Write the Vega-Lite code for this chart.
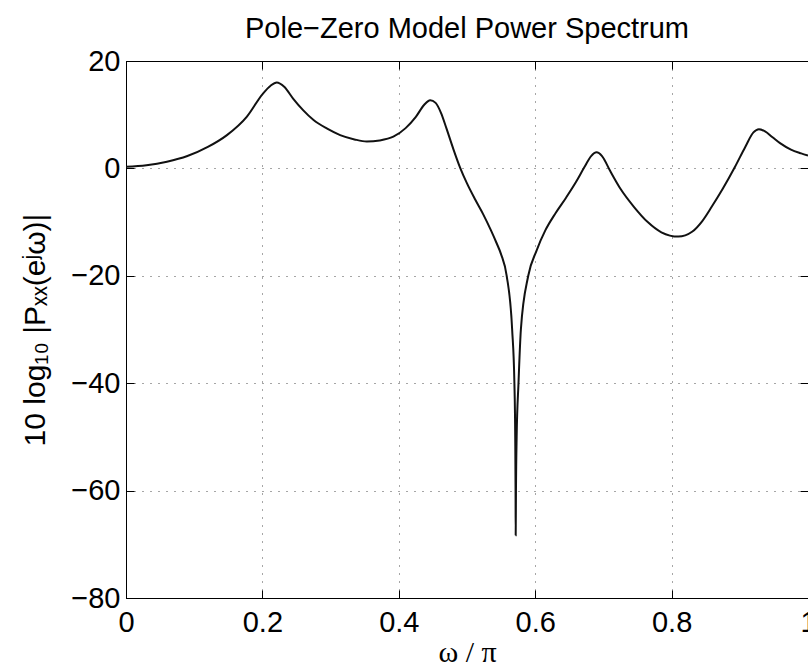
{
  "$schema": "https://vega.github.io/schema/vega-lite/v6.json",
  "autosize": {"type": "none"},
  "padding": {"left": 126, "top": 61, "right": 0, "bottom": 70},
  "width": 682,
  "height": 537,
  "background": "#ffffff",
  "title": {
    "text": "Pole−Zero Model Power Spectrum",
    "font": "Liberation Sans",
    "fontSize": 29,
    "fontWeight": "normal",
    "color": "#000000",
    "offset": 3,
    "anchor": "middle"
  },
  "data": {
    "values": [
      {"w": 0.0, "p": 0.3}, {"w": 0.03, "p": 0.6}, {"w": 0.06, "p": 1.25}, {"w": 0.09, "p": 2.3},
      {"w": 0.12, "p": 4.0}, {"w": 0.148, "p": 6.2}, {"w": 0.177, "p": 9.6}, {"w": 0.2, "p": 13.8},
      {"w": 0.212, "p": 15.4}, {"w": 0.221, "p": 16.0}, {"w": 0.232, "p": 15.2}, {"w": 0.245, "p": 13.0},
      {"w": 0.26, "p": 10.8}, {"w": 0.275, "p": 9.0}, {"w": 0.295, "p": 7.4}, {"w": 0.314, "p": 6.2},
      {"w": 0.335, "p": 5.4}, {"w": 0.353, "p": 5.0}, {"w": 0.372, "p": 5.2}, {"w": 0.392, "p": 5.9},
      {"w": 0.41, "p": 7.5}, {"w": 0.425, "p": 9.6}, {"w": 0.437, "p": 11.8}, {"w": 0.446, "p": 12.7},
      {"w": 0.454, "p": 12.2}, {"w": 0.462, "p": 10.3}, {"w": 0.47, "p": 7.4}, {"w": 0.48, "p": 3.6},
      {"w": 0.49, "p": 0.1}, {"w": 0.5, "p": -2.8}, {"w": 0.512, "p": -5.8}, {"w": 0.524, "p": -8.6},
      {"w": 0.535, "p": -11.5}, {"w": 0.543, "p": -13.8}, {"w": 0.55, "p": -16.0}, {"w": 0.5582, "p": -20.0},
      {"w": 0.5662, "p": -30.0}, {"w": 0.5695, "p": -40.0}, {"w": 0.5707, "p": -50.0}, {"w": 0.5712, "p": -60.0},
      {"w": 0.5714, "p": -68.3}, {"w": 0.5718, "p": -60.0}, {"w": 0.5728, "p": -50.0}, {"w": 0.5755, "p": -40.0},
      {"w": 0.579, "p": -30.0}, {"w": 0.5898, "p": -20.0}, {"w": 0.602, "p": -15.3}, {"w": 0.615, "p": -11.5},
      {"w": 0.63, "p": -8.3}, {"w": 0.645, "p": -5.5}, {"w": 0.66, "p": -2.5}, {"w": 0.672, "p": 0.2},
      {"w": 0.682, "p": 2.3}, {"w": 0.69, "p": 3.0}, {"w": 0.698, "p": 2.3}, {"w": 0.71, "p": -0.5},
      {"w": 0.725, "p": -3.8}, {"w": 0.745, "p": -7.2}, {"w": 0.765, "p": -10.0}, {"w": 0.785, "p": -11.9},
      {"w": 0.81, "p": -12.7}, {"w": 0.83, "p": -11.8}, {"w": 0.845, "p": -9.8}, {"w": 0.859, "p": -7.1},
      {"w": 0.875, "p": -3.8}, {"w": 0.893, "p": 0.3}, {"w": 0.908, "p": 4.0}, {"w": 0.92, "p": 6.7},
      {"w": 0.928, "p": 7.3}, {"w": 0.937, "p": 6.9}, {"w": 0.948, "p": 5.8}, {"w": 0.959, "p": 4.7},
      {"w": 0.975, "p": 3.5}, {"w": 0.99, "p": 2.8}, {"w": 1.0, "p": 2.4}
    ]
  },
  "layer": [
    {
      "mark": {"type": "line", "color": "#111111", "strokeWidth": 2, "interpolate": "monotone", "clip": true},
      "encoding": {
        "x": {
          "field": "w", "type": "quantitative",
          "scale": {"domain": [0, 1], "nice": false, "zero": false},
          "axis": {
            "orient": "bottom",
            "values": [0, 0.2, 0.4, 0.6, 0.8, 1],
            "format": ".1~f",
            "title": "ω / π",
            "titleFont": "Liberation Serif",
            "titleFontSize": 30,
            "titleFontWeight": "normal",
            "titleColor": "#000000",
            "titlePadding": 0,
            "labelFont": "Liberation Sans",
            "labelFontSize": 29,
            "labelColor": "#000000",
            "labelPadding": 18,
            "labelFlush": false,
            "labelOverlap": false,
            "tickSize": -8,
            "tickColor": "#000000",
            "domainColor": "#000000",
            "grid": true,
            "gridColor": "#000000",
            "gridOpacity": 0.7,
            "gridDash": [1, 7]
          }
        },
        "y": {
          "field": "p", "type": "quantitative",
          "scale": {"domain": [-80, 20], "nice": false, "zero": false},
          "axis": {
            "orient": "left",
            "values": [-80, -60, -40, -20, 0, 20],
            "format": "d",
            "title": "10 log₁₀ |Pₓₓ(eʲω)|",
            "titleFont": "Liberation Sans",
            "titleFontSize": 30,
            "titleFontWeight": "normal",
            "titleColor": "#000000",
            "titlePadding": 20,
            "labelFont": "Liberation Sans",
            "labelFontSize": 29,
            "labelColor": "#000000",
            "labelPadding": 14,
            "labelFlush": false,
            "labelOverlap": false,
            "tickSize": -8,
            "tickColor": "#000000",
            "domainColor": "#000000",
            "grid": true,
            "gridColor": "#000000",
            "gridOpacity": 0.7,
            "gridDash": [1, 7]
          }
        }
      }
    },
    {
      "mark": {"type": "line", "opacity": 0},
      "encoding": {
        "x": {
          "field": "w", "type": "quantitative",
          "axis": {"orient": "top", "values": [0, 0.2, 0.4, 0.6, 0.8, 1], "labels": false, "title": null, "grid": false, "tickSize": -8, "tickColor": "#000000", "domainColor": "#000000"}
        },
        "y": {
          "field": "p", "type": "quantitative",
          "axis": {"orient": "right", "values": [-80, -60, -40, -20, 0, 20], "labels": false, "title": null, "grid": false, "tickSize": -8, "tickColor": "#000000", "domainColor": "#000000"}
        }
      }
    }
  ],
  "resolve": {"axis": {"x": "independent", "y": "independent"}},
  "config": {
    "view": {"stroke": "#000000", "strokeWidth": 1},
    "axis": {"domainWidth": 1, "tickWidth": 1}
  }
}
